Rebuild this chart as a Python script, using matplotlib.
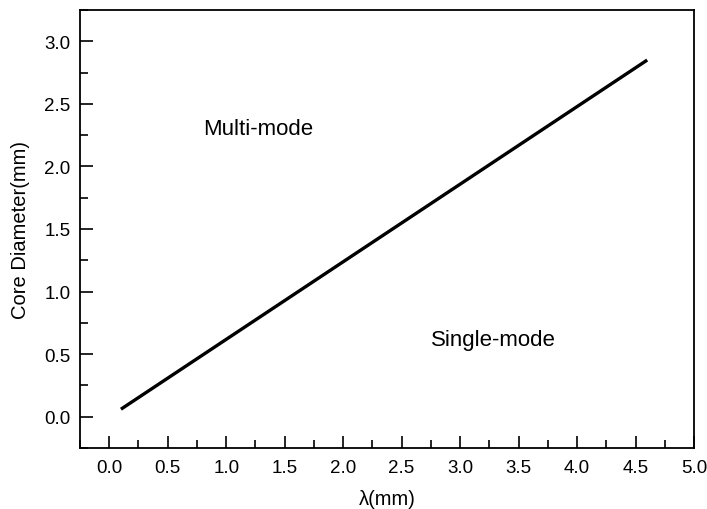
import numpy as np
import matplotlib.pyplot as plt
from matplotlib.ticker import MultipleLocator

plt.rcParams['font.family'] = ['Liberation Sans', 'DejaVu Sans']

# cutoff line between single- and multi-mode regions
wavelength = np.array([0.1, 4.6])
core_diam = np.array([0.06, 2.85])

fig = plt.figure(figsize=(7.07, 5.10), dpi=100)
ax = fig.add_axes([80 / 707, 61 / 510, 614 / 707, 438 / 510])

ax.plot(wavelength, core_diam, color='black', lw=2.4, solid_capstyle='butt')

ax.set_xlim(-0.25, 5.0)
ax.set_ylim(-0.25, 3.25)
ax.xaxis.set_minor_locator(MultipleLocator(0.25))
ax.yaxis.set_minor_locator(MultipleLocator(0.25))
ax.set_xticks(np.arange(0, 5.01, 0.5))
ax.set_yticks(np.arange(0, 3.01, 0.5))
ax.xaxis.set_major_formatter(plt.FormatStrFormatter('%.1f'))
ax.yaxis.set_major_formatter(plt.FormatStrFormatter('%.1f'))

ax.tick_params(which='both', direction='in', top=False, right=False,
               labelsize=13.5, width=1.2)
ax.tick_params(axis='y', pad=7)
ax.tick_params(axis='x', pad=8)
ax.tick_params(which='major', length=9)
ax.tick_params(which='minor', length=6)
for s in ax.spines.values():
    s.set_linewidth(1.3)

ax.set_xlabel('λ(mm)', fontsize=14.5, labelpad=9)
ax.set_ylabel('Core Diameter(mm)', fontsize=14.5, labelpad=10)

ax.text(0.8, 2.3, 'Multi-mode', fontsize=16, va='center')
ax.text(2.75, 0.62, 'Single-mode', fontsize=16, va='center')

fig.savefig('out.png', dpi=100)
